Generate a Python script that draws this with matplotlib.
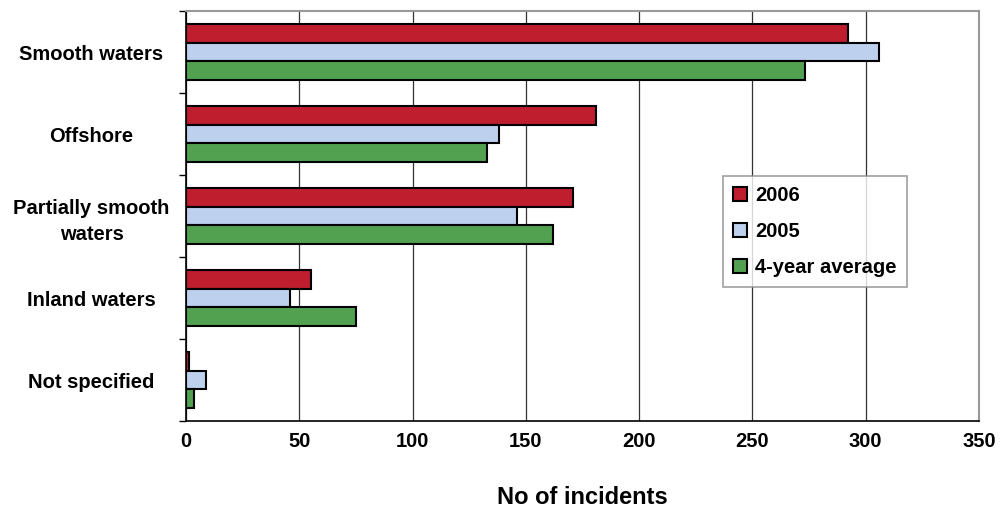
import numpy as np
import matplotlib
matplotlib.use('Agg')
import matplotlib.pyplot as plt

plt.rcParams['font.family'] = ['Liberation Sans', 'DejaVu Sans']
plt.rcParams['font.weight'] = 'bold'

categories = ['Smooth waters', 'Offshore', 'Partially smooth\nwaters', 'Inland waters', 'Not specified']
series_names = ['2006', '2005', '4-year average']
vals_2006 = [292, 181, 171, 55, 1.5]
vals_2005 = [306, 138, 146, 46, 9]
vals_avg = [273, 133, 162, 75, 3.5]
colors = ['#BE1E2D', '#BDD0EE', '#52A150']

fig = plt.figure(figsize=(10, 5.09), dpi=100)
ax = fig.add_axes([0.186, 1 - 421 / 509, 0.793, 410 / 509])

n = len(categories)
y = np.arange(n)
h = 0.225
for i, (vals, c, name) in enumerate(zip([vals_2006, vals_2005, vals_avg], colors, series_names)):
    ax.barh(y + (i - 1) * h, vals, height=h, color=c, edgecolor='black',
            linewidth=1.5, label=name, zorder=3)

ax.set_ylim(n - 0.5, -0.5)
ax.set_xlim(0, 350)
ax.set_xticks(np.arange(0, 351, 50))
ax.set_yticks(y)
ax.set_yticklabels(categories, fontsize=14.5, fontweight='bold', ha='center',
                   linespacing=1.5)
ax.tick_params(axis='y', length=0, pad=68)
ax.set_yticks(np.arange(-0.5, n, 1), minor=True)
ax.tick_params(axis='y', which='minor', length=5, width=1, direction='out')
ax.tick_params(axis='x', length=0, pad=8, labelsize=14.5)
for lbl in ax.get_xticklabels():
    lbl.set_fontweight('bold')
ax.grid(axis='x', color='#333333', linewidth=0.9, zorder=0)

for side in ['top', 'right']:
    ax.spines[side].set_color('#999999')
    ax.spines[side].set_linewidth(1.5)
for side in ['left', 'bottom']:
    ax.spines[side].set_color('black')
    ax.spines[side].set_linewidth(1.2)

ax.set_xlabel('No of incidents', fontsize=17, fontweight='bold', labelpad=25)

leg = ax.legend(loc='upper left', bbox_to_anchor=((723 - 186) / 793, (421 - 176) / 410),
                fontsize=14.5, frameon=True, fancybox=False, borderpad=0.5,
                labelspacing=0.85, handlelength=0.7, handleheight=0.7,
                handletextpad=0.4, borderaxespad=0)
leg.get_frame().set_edgecolor('#888888')
leg.get_frame().set_linewidth(1.2)
for t in leg.get_texts():
    t.set_fontweight('bold')

fig.savefig('out.png', dpi=100)
